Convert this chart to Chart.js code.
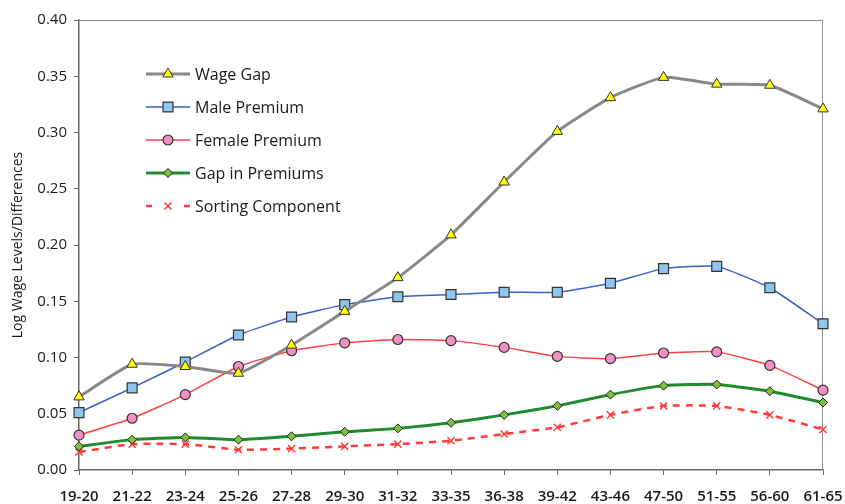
<!DOCTYPE html>
<html>
<head>
<meta charset="utf-8">
<script src="https://cdn.jsdelivr.net/npm/chart.js@4.4.1/dist/chart.umd.min.js"></script>
<style>
  html, body { margin: 0; padding: 0; background: #fff; }
  #wrap { width: 845px; height: 504px; }
</style>
</head>
<body>
<div id="wrap"><canvas id="myChart" width="845" height="504"></canvas></div>
<script>
var ageGroups = ["19-20","21-22","23-24","25-26","27-28","29-30","31-32","33-35","36-38","39-42","43-46","47-50","51-55","56-60","61-65"];
var wageGap = [0.065, 0.094, 0.092, 0.086, 0.111, 0.141, 0.171, 0.209, 0.256, 0.301, 0.331, 0.349, 0.343, 0.342, 0.321];
var malePremium = [0.051, 0.073, 0.096, 0.120, 0.136, 0.147, 0.154, 0.156, 0.158, 0.158, 0.166, 0.179, 0.181, 0.162, 0.130];
var femalePremium = [0.031, 0.046, 0.067, 0.092, 0.106, 0.113, 0.116, 0.115, 0.109, 0.101, 0.099, 0.104, 0.105, 0.093, 0.071];
var gapInPremiums = [0.021, 0.027, 0.029, 0.027, 0.030, 0.034, 0.037, 0.042, 0.049, 0.057, 0.067, 0.075, 0.076, 0.070, 0.060];
var sortingComponent = [0.016, 0.023, 0.023, 0.018, 0.019, 0.021, 0.023, 0.026, 0.032, 0.038, 0.049, 0.057, 0.057, 0.049, 0.036];
var yTicks = [0, 0.05, 0.10, 0.15, 0.20, 0.25, 0.30, 0.35, 0.40];

var FONT = "'Open Sans', 'Liberation Sans', sans-serif";
var SMOOTH = 0.15;

// legend drawn inside the plot, line sample with marker in the middle
var insideLegend = {
    id: "insideLegend",
    afterDraw: function(chart) {
        var ctx = chart.ctx;
        var x0 = 146, x1 = 190, y = 74, step = 33;
        chart.data.datasets.forEach(function(ds) {
            ctx.save();
            ctx.strokeStyle = ds.borderColor;
            ctx.lineWidth = ds.borderWidth;
            ctx.beginPath();
            if (ds.borderDash) {
                ctx.moveTo(x0, y); ctx.lineTo(x0 + 6, y);
                ctx.moveTo(x1 - 6, y); ctx.lineTo(x1, y);
            } else {
                ctx.moveTo(x0, y); ctx.lineTo(x1, y);
            }
            ctx.stroke();
            ctx.fillStyle = ds.pointBackgroundColor;
            ctx.strokeStyle = ds.pointBorderColor;
            ctx.lineWidth = ds.pointBorderWidth;
            Chart.helpers.drawPoint(ctx, {pointStyle: ds.pointStyle, radius: ds.pointRadius, borderWidth: ds.pointBorderWidth}, (x0 + x1) / 2, y);
            ctx.fillStyle = "#1a1a1a";
            ctx.font = "16px " + FONT;
            ctx.textBaseline = "middle";
            ctx.fillText(ds.label, 195, y + 1);
            ctx.restore();
            y += step;
        });
    }
};

var frameBox = {
    id: "frameBox",
    beforeDatasetsDraw: function(chart) {
        var a = chart.chartArea, ctx = chart.ctx;
        ctx.save();
        ctx.strokeStyle = "#8c8c8c";
        ctx.lineWidth = 1;
        ctx.beginPath();
        ctx.moveTo(a.left, a.top + 0.5); ctx.lineTo(a.right, a.top + 0.5);
        ctx.moveTo(a.right - 0.5, a.top); ctx.lineTo(a.right - 0.5, a.bottom);
        ctx.stroke();
        ctx.restore();
    }
};

new Chart("myChart", {
    type: "line",
    data: {
        labels: ageGroups,
        datasets: [
            {
                label: "Wage Gap",
                data: wageGap,
                borderColor: "#888888",
                borderWidth: 3,
                pointStyle: "triangle",
                pointRadius: 6,
                pointBackgroundColor: "#ffff00",
                pointBorderColor: "#333333",
                pointBorderWidth: 1,
                tension: SMOOTH
            },
            {
                label: "Male Premium",
                data: malePremium,
                borderColor: "#3a5fc8",
                borderWidth: 1.5,
                pointStyle: "rect",
                pointRadius: 7,
                pointBackgroundColor: "#8fc6ee",
                pointBorderColor: "#333333",
                pointBorderWidth: 1.2,
                tension: SMOOTH
            },
            {
                label: "Female Premium",
                data: femalePremium,
                borderColor: "#ff4040",
                borderWidth: 1.5,
                pointStyle: "circle",
                pointRadius: 5,
                pointBackgroundColor: "#f090c4",
                pointBorderColor: "#333333",
                pointBorderWidth: 1.2,
                tension: SMOOTH
            },
            {
                label: "Gap in Premiums",
                data: gapInPremiums,
                borderColor: "#1f8a30",
                borderWidth: 3,
                pointStyle: "rectRot",
                pointRadius: 4.5,
                pointBackgroundColor: "#7cc03c",
                pointBorderColor: "#222222",
                pointBorderWidth: 1,
                tension: SMOOTH
            },
            {
                label: "Sorting Component",
                data: sortingComponent,
                borderColor: "#ff3b3b",
                borderWidth: 2.5,
                borderDash: [7, 6],
                pointStyle: "crossRot",
                pointRadius: 5,
                pointBackgroundColor: "#ff3b3b",
                pointBorderColor: "#ff3b3b",
                pointBorderWidth: 1.5,
                tension: SMOOTH
            }
        ]
    },
    options: {
        responsive: false,
        animation: false,
        layout: { padding: { top: 20, right: 22, left: 0, bottom: 0 } },
        plugins: {
            legend: { display: false },
            tooltip: { enabled: false }
        },
        scales: {
            x: {
                offset: false,
                grid: { display: true, drawOnChartArea: false, drawTicks: true, tickLength: 5, color: "#666666" },
                border: { display: true, color: "#666666", width: 1.5 },
                ticks: { color: "#1a1a1a", padding: 13, maxRotation: 0, autoSkip: false, font: { family: FONT, size: 15, weight: "600" } },
                afterFit: function(s) { s.height = 34; s.paddingLeft = 0; s.paddingRight = 0; }
            },
            y: {
                min: 0,
                max: 0.4,
                afterBuildTicks: function(s) { s.ticks = yTicks.map(function(v) { return { value: v }; }); },
                grid: { display: true, drawOnChartArea: false, drawTicks: true, tickLength: 5, color: "#666666" },
                border: { display: true, color: "#666666", width: 1.5 },
                ticks: {
                    color: "#1a1a1a",
                    padding: 7,
                    font: { family: FONT, size: 15 },
                    callback: function(v) { return Number(v).toFixed(2); }
                },
                title: {
                    display: true,
                    text: "Log Wage Levels/Differences",
                    color: "#1a1a1a",
                    padding: { top: 10, bottom: 0 },
                    font: { family: FONT, size: 14 }
                },
                afterFit: function(s) { s.width = 79; s.paddingTop = 0; s.paddingBottom = 0; }
            }
        }
    },
    plugins: [frameBox, insideLegend]
});
</script>
</body>
</html>
